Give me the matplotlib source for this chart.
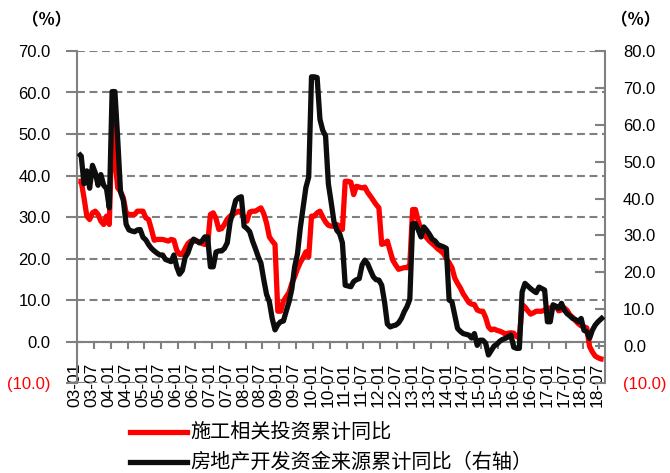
import matplotlib
matplotlib.use("Agg")
import matplotlib.pyplot as plt
import matplotlib.transforms as mtransforms
from matplotlib.lines import Line2D
from matplotlib.ticker import FuncFormatter
import numpy as np

# monthly cumulative YoY, 2003-01 .. 2018-08 (%)
construction_yoy = [
    38.6, 38.6, 34.6, 30.2, 29.4, 31.0, 31.4, 30.6, 29.0, 28.2, 30.2, 28.2,   # 2003
    52.5, 44.0, 37.0, 36.2, 34.6, 31.0, 30.6, 30.6, 30.6, 31.4, 31.4, 31.4,   # 2004
    29.8, 29.4, 27.0, 24.4, 24.6, 24.6, 24.6, 24.4, 24.2, 24.6, 24.4, 22.0,   # 2005
    21.0, 21.0, 22.4, 23.6, 24.2, 24.2, 24.2, 24.0, 23.6, 23.4, 23.4, 30.6,   # 2006
    31.0, 29.6, 27.0, 27.2, 28.2, 29.5, 30.2, 30.6, 31.0, 31.4, 31.0, 29.8,   # 2007
    29.0, 31.2, 31.4, 31.4, 31.8, 32.2, 30.8, 28.5, 25.2, 24.2, 23.4, 7.3,    # 2008
    7.3, 9.7, 10.8, 11.8, 14.0, 15.6, 17.5, 19.0, 20.2, 21.6, 20.4, 30.2,     # 2009
    30.2, 31.0, 31.4, 30.0, 28.8, 28.0, 27.8, 27.8, 28.2, 27.8, 27.0, 38.6,   # 2010
    38.6, 38.4, 35.4, 37.4, 37.2, 37.0, 37.2, 35.9, 35.0, 34.0, 33.0, 32.2,   # 2011
    23.4, 23.6, 24.2, 21.8, 19.5, 18.4, 17.4, 17.6, 17.8, 17.8, 18.5, 31.8,   # 2012
    31.8, 29.0, 27.0, 25.6, 25.0, 24.2, 23.6, 23.0, 22.3, 21.8, 21.2, 20.0,   # 2013
    19.0, 17.8, 15.3, 14.0, 12.9, 11.5, 10.5, 9.4, 9.0, 8.9, 7.6, 7.3,        # 2014
    7.3, 5.8, 3.5, 2.8, 3.0, 2.7, 2.5, 2.2, 1.8, 2.0, 2.1, 2.0,               # 2015
    1.2, 0.9, 8.9, 8.3, 7.4, 6.6, 6.9, 7.3, 7.3, 7.3, 7.6, 7.8,               # 2016
    8.1, 8.3, 8.5, 7.4, 7.6, 8.1, 7.5, 6.4, 5.8, 5.0, 4.3, 3.8,               # 2017
    3.5, 3.3, -1.2, -2.5, -3.5, -3.9, -4.2, -4.3,                             # 2018
]

funding_yoy = [
    52.3, 51.5, 44.0, 47.5, 42.8, 49.0, 47.0, 43.6, 46.5, 43.6, 42.7, 37.5,   # 2003
    69.0, 69.0, 56.0, 41.8, 39.5, 33.0, 31.5, 31.2, 31.0, 31.5, 31.6, 29.5,   # 2004
    28.8, 27.5, 26.5, 25.8, 25.2, 24.7, 24.7, 23.5, 23.2, 22.9, 24.7, 21.5,   # 2005
    19.5, 20.5, 24.0, 25.3, 27.5, 29.0, 28.6, 28.0, 28.5, 29.6, 29.6, 21.5,   # 2006
    21.5, 25.5, 25.8, 25.8, 26.5, 28.0, 33.5, 36.5, 39.5, 40.2, 40.5, 32.5,   # 2007
    31.9, 31.0, 28.5, 26.5, 24.3, 22.5, 18.0, 14.0, 12.0, 7.5, 4.4, 5.8,      # 2008
    6.6, 6.8, 9.5, 12.0, 15.5, 21.5, 25.0, 32.0, 37.5, 43.0, 45.8, 73.0,      # 2009
    73.0, 72.8, 61.5, 58.5, 57.0, 44.0, 39.0, 33.7, 31.4, 30.5, 28.0, 16.5,   # 2010
    16.3, 16.1, 17.5, 18.0, 18.3, 22.0, 23.3, 22.3, 20.5, 18.8, 18.0, 17.9,   # 2011
    16.5, 12.0, 6.0, 5.2, 5.5, 5.7, 6.3, 7.5, 9.3, 10.7, 12.7, 33.2,          # 2012
    33.2, 31.5, 29.6, 32.3, 31.4, 30.3, 29.0, 28.5, 27.5, 27.2, 26.9, 26.5,   # 2013
    12.5, 12.0, 8.4, 4.8, 4.0, 3.4, 3.2, 3.0, 2.2, 3.4, 0.2, 1.6,             # 2014
    1.6, 0.8, -2.4, -1.2, 0.0, 0.5, 1.3, 1.8, 2.1, 2.5, 3.0, -0.3,            # 2015
    -0.6, -0.6, 14.7, 17.0, 16.3, 15.6, 15.0, 14.5, 16.0, 15.6, 15.2, 6.6,    # 2016
    6.6, 11.2, 10.8, 10.2, 11.6, 9.8, 8.8, 8.2, 7.5, 7.2, 6.6, 7.5,           # 2017
    4.3, 3.9, 2.1, 4.3, 5.7, 6.6, 7.3, 8.0,                                   # 2018
]

period_labels = [
    "03-01", "03-07", "04-01", "04-07", "05-01", "05-07", "06-01", "06-07",
    "07-01", "07-07", "08-01", "08-07", "09-01", "09-07", "10-01", "10-07",
    "11-01", "11-07", "12-01", "12-07", "13-01", "13-07", "14-01", "14-07",
    "15-01", "15-07", "16-01", "16-07", "17-01", "17-07", "18-01", "18-07",
]

series_names = ["施工相关投资累计同比", "房地产开发资金来源累计同比（右轴）"]

RED = "#FF0000"
BLACK = "#0D0D0D"
GREY = "#808080"

plt.rcParams["font.family"] = ["Liberation Sans", "Noto Sans CJK SC", "DejaVu Sans"]

W, H = 670, 473
fig = plt.figure(figsize=(W / 100, H / 100), dpi=100)
ax = fig.add_axes([77 / W, 90 / H, 528 / W, 332 / H])
ax2 = ax.twinx()

months = np.arange(len(construction_yoy))
ax.plot(months, construction_yoy, color=RED, lw=3.8,
        solid_joinstyle="round", solid_capstyle="butt", zorder=3)
ax2.plot(months, funding_yoy, color=BLACK, lw=3.8,
         solid_joinstyle="round", solid_capstyle="butt", zorder=3)

ax.set_xlim(-0.5, len(months) - 0.5)
ax.set_ylim(-10, 70)
ax2.set_ylim(-10, 80)


def pct_fmt(v, _pos):
    return f"({abs(v):.1f})" if v < 0 else f"{v:.1f}"


ax.set_yticks(np.arange(-10, 71, 10))
ax2.set_yticks(np.arange(-10, 81, 10))
ax.yaxis.set_major_formatter(FuncFormatter(pct_fmt))
ax2.yaxis.set_major_formatter(FuncFormatter(pct_fmt))

ax.yaxis.grid(True, color=GREY, lw=1.5, ls=(0, (3.8, 2.2)))
ax.set_axisbelow(True)

for side in ("top", "right"):
    ax.spines[side].set_visible(False)
for side in ("top", "left", "bottom"):
    ax2.spines[side].set_visible(False)
ax.spines["bottom"].set_position(("data", 0))
for sp in (ax.spines["left"], ax.spines["bottom"], ax2.spines["right"]):
    sp.set_color(GREY)
    sp.set_linewidth(1.5)

ax.tick_params(axis="y", direction="out", length=8, width=1.5, color=GREY,
               pad=11, labelsize=12)
ax2.tick_params(axis="y", direction="in", length=7, width=1.5, color=GREY,
                pad=13, labelsize=12)

ax.set_xticks(np.arange(len(period_labels)) * 6 - 0.5)
ax.set_xticklabels(period_labels, rotation=90, va="top", ha="center")
ax.tick_params(axis="x", direction="out", length=5, width=1.5, color=GREY,
               pad=10, labelsize=12.5)
shift = mtransforms.ScaledTranslation(-2 / 100, 0, fig.dpi_scale_trans)
for lbl in ax.get_xticklabels():
    lbl.set_transform(lbl.get_transform() + shift)

for axis in (ax, ax2):
    for lbl in axis.get_yticklabels():
        if lbl.get_text().startswith("("):
            lbl.set_color(RED)

# unit markers above both axes
for xpix in (47, 636):
    fig.text(xpix / W, 1 - 20 / H, "（%）", ha="center", va="center",
             fontsize=12, fontweight="bold", family=["Noto Sans CJK SC"])

# legend drawn below the plot
for ypix, color, name in ((432, RED, series_names[0]), (462, BLACK, series_names[1])):
    y = 1 - ypix / H
    fig.add_artist(Line2D([130 / W, 187 / W], [y, y], color=color, lw=3.8,
                          transform=fig.transFigure))
    fig.text(190 / W, y, name, ha="left", va="center", fontsize=14.5,
             family=["Noto Sans CJK SC"])

fig.savefig("out.png", dpi=100)
